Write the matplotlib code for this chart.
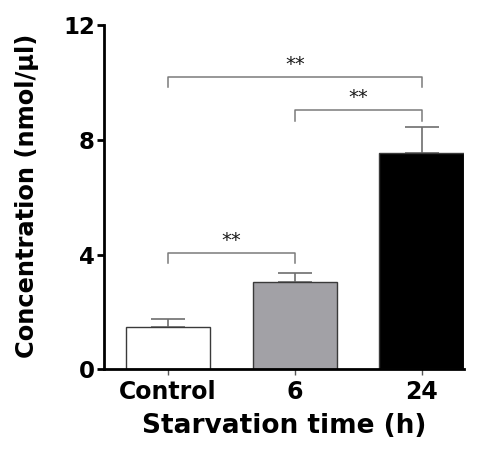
import numpy as np
import matplotlib.pyplot as plt

plt.rcParams['font.family'] = ['DejaVu Sans']

groups = ['Control', '6', '24']
means = [1.48, 3.05, 7.55]
sem = [0.26, 0.29, 0.88]
colors = ['white', '#a2a1a6', 'black']

# significance brackets: (left group, right group, bracket height, tip drop)
brackets = [(0, 1, 4.06, 0.36), (1, 2, 9.03, 0.37), (0, 2, 10.2, 0.36)]
marks = ['**', '**', '**']

fig = plt.figure(figsize=(4.78, 4.53), dpi=100)
ax = fig.add_axes([0.2186, 0.1848, 0.7524, 0.76])

x = np.arange(len(groups))
ax.bar(x, means, width=0.668, color=colors, edgecolor='#3a3a3a', linewidth=1.0, zorder=2)
ax.errorbar(x, means, yerr=[np.zeros(len(sem)), sem], fmt='none', ecolor='#6e6e6e',
            elinewidth=1.2, capsize=12, capthick=1.2, zorder=1)

for (a, b, h, d), m in zip(brackets, marks):
    ax.plot([a, a, b, b], [h - d, h, h, h - d], color='#7a7a7a', lw=1.1, zorder=3)
    ax.text((a + b) / 2, h + 0.24, m, ha='center', va='baseline', fontsize=14, color='#1a1a1a')

ax.set_xlim(-0.502, 2.335)
ax.set_ylim(0, 12)
ax.set_yticks([0, 4, 8, 12])
ax.set_xticks(x)
ax.set_xticklabels(groups)

for s in ['top', 'right']:
    ax.spines[s].set_visible(False)
for s in ['left', 'bottom']:
    ax.spines[s].set_linewidth(2)

ax.tick_params(axis='y', length=5, width=2, pad=2, labelsize=16.5)
ax.tick_params(axis='x', length=4, width=1, color='#555555', pad=4, labelsize=17)
for lab in ax.get_xticklabels() + ax.get_yticklabels():
    lab.set_fontweight('bold')

ax.set_ylabel('Concentration (nmol/µl)', fontsize=17.4, fontweight='bold')
ax.set_xlabel('Starvation time (h)', fontsize=19, fontweight='bold')
ax.yaxis.set_label_coords(-0.216, 0.505)
ax.xaxis.set_label_coords(0.5, -0.165)
ax.xaxis.label.set_va('center')
ax.yaxis.label.set_va('center')

fig.savefig('out.png', dpi=100)
